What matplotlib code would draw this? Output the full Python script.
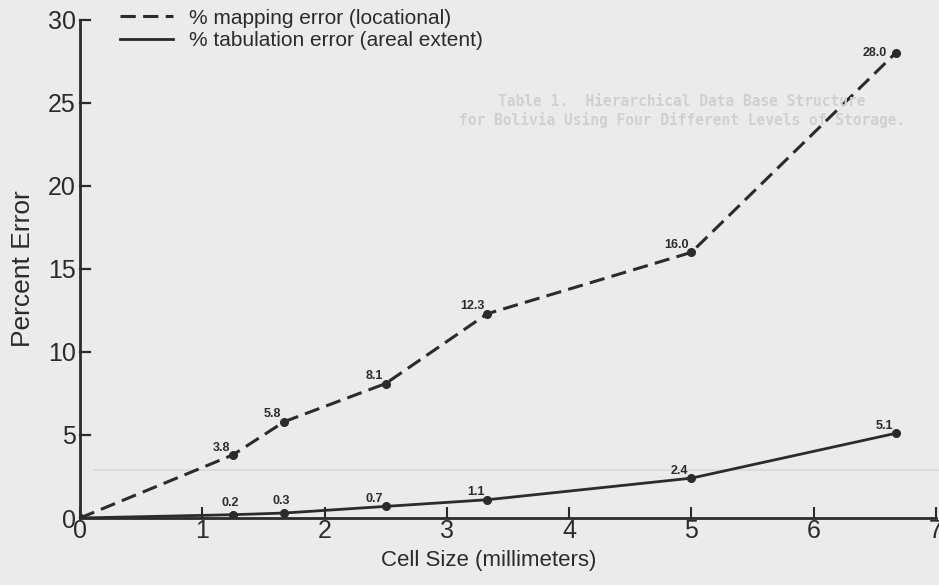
import numpy as np
import matplotlib
matplotlib.use("Agg")
import matplotlib.pyplot as plt

plt.rcParams['font.family'] = ['Liberation Sans', 'DejaVu Sans']

# cell sizes (mm) and percent errors
cell_size = [0.0, 1.25, 1.67, 2.5, 3.33, 5.0, 6.67]
mapping_err = [0.0, 3.8, 5.8, 8.1, 12.3, 16.0, 28.0]
tab_err = [0.0, 0.2, 0.3, 0.7, 1.1, 2.4, 5.1]
map_lbl = ['', '3.8', '5.8', '8.1', '12.3', '16.0', '28.0']
tab_lbl = ['', '0.2', '0.3', '0.7', '1.1', '2.4', '5.1']

xticks = [0, 1, 2, 3, 4, 5, 6, 7]
yticks = [0, 5, 10, 15, 20, 25, 30]

ink = '#2b2b2b'
paper = '#ebebeb'

fig = plt.figure(figsize=(9.39, 5.85), dpi=100, facecolor=paper)
ax = fig.add_axes([0.0852, 0.1145, 0.9115, 0.8515])
ax.patch.set_visible(False)

# faint bleed-through of the next page
fig.text(0.726, 0.84, "Table 1.  Hierarchical Data Base Structure\nfor Bolivia Using Four Different Levels of Storage.",
         family='DejaVu Sans Mono', fontweight='bold', fontsize=10.5, color='#d0d0d0',
         ha='center', va='top', linespacing=1.25, zorder=0)
fig.add_artist(plt.Line2D([0.1, 1.0], [0.197, 0.197], color='#d8d8d8', lw=1.2, zorder=0))

l1, = ax.plot(cell_size, mapping_err, color=ink, lw=2.2, dashes=(5, 2.4),
              marker='o', ms=5.5, mfc=ink, mec=ink)
l2, = ax.plot(cell_size, tab_err, color=ink, lw=2.0,
              marker='o', ms=5.5, mfc=ink, mec=ink)

for x, y, t in zip(cell_size, mapping_err, map_lbl):
    if not t:
        continue
    if t == '28.0':
        ax.annotate(t, (x, y), xytext=(-6, 0), textcoords='offset points',
                    ha='right', va='center', fontsize=9, fontweight='bold', color=ink)
    else:
        ax.annotate(t, (x, y), xytext=(-2, 1), textcoords='offset points',
                    ha='right', va='bottom', fontsize=9, fontweight='bold', color=ink)

for x, y, t in zip(cell_size, tab_err, tab_lbl):
    if not t:
        continue
    if t in ('0.2', '0.3'):
        ax.annotate(t, (x, y), xytext=(-2, 4), textcoords='offset points',
                    ha='center', va='bottom', fontsize=9, fontweight='bold', color=ink)
    else:
        ax.annotate(t, (x, y), xytext=(-2, 1), textcoords='offset points',
                    ha='right', va='bottom', fontsize=9, fontweight='bold', color=ink)

ax.set_xlim(0, 7)
ax.set_ylim(0, 30)
ax.set_xticks(xticks)
ax.set_yticks(yticks)
ax.tick_params(direction='in', length=8, width=1.5, colors=ink, labelsize=18, pad=1)
ax.tick_params(axis='y', direction='out', length=0, pad=3)
# y ticks drawn inside to the right
for y in yticks:
    ax.plot([0, 0.085], [y, y], color=ink, lw=1.6, clip_on=False, zorder=5)

for s in ['top', 'right']:
    ax.spines[s].set_visible(False)
for s in ['left', 'bottom']:
    ax.spines[s].set_color(ink)
    ax.spines[s].set_linewidth(2.0)

ax.set_xlabel('Cell Size (millimeters)', fontsize=16, color=ink)
ax.xaxis.set_label_coords(0.477, -0.064)
ax.set_ylabel('Percent Error', fontsize=19, color=ink)
ax.yaxis.set_label_coords(-0.053, 0.5)

fig.legend([l1, l2], ['% mapping error (locational)', '% tabulation error (areal extent)'],
           loc='upper left', bbox_to_anchor=(0.128, 0.985), frameon=False,
           borderpad=0, borderaxespad=0,
           fontsize=15, handlelength=2.55, handletextpad=0.75, labelspacing=0.15,
           labelcolor=ink)
# remove markers from legend handles
leg = fig.legends[0]
for h in leg.legend_handles:
    h.set_marker('')

fig.savefig('out.png', dpi=100, facecolor=paper)
